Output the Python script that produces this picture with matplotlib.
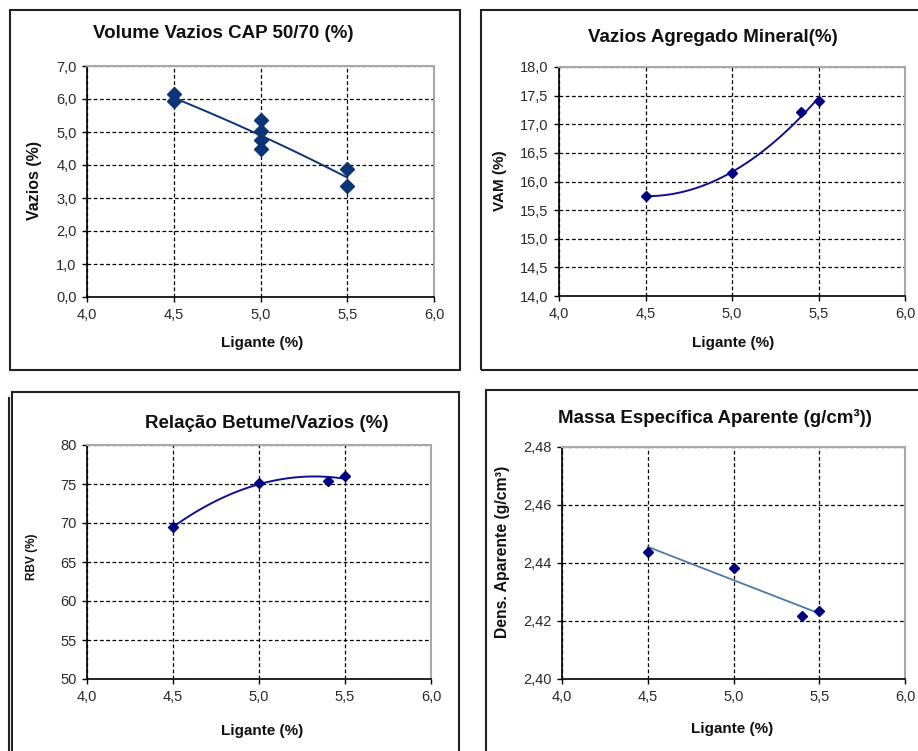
import numpy as np
import matplotlib
matplotlib.use('Agg')
import matplotlib.pyplot as plt
from matplotlib.patches import Rectangle
from matplotlib.lines import Line2D
from matplotlib.ticker import FuncFormatter

plt.rcParams['font.family'] = ['Liberation Sans', 'DejaVu Sans']

# DATA
lig_vv = [4.5, 4.5, 5.0, 5.0, 5.0, 5.0, 5.5, 5.5]
vazios = [6.14, 5.93, 5.35, 5.02, 4.75, 4.47, 3.89, 3.35]

lig = [4.5, 5.0, 5.4, 5.5]
vam = [15.75, 16.14, 17.21, 17.41]
rbv = [69.45, 75.17, 75.35, 76.07]
dens = [2.4438, 2.4383, 2.4217, 2.4234]

x_ticks = [4.0, 4.5, 5.0, 5.5, 6.0]
vv_ticks = [0, 1, 2, 3, 4, 5, 6, 7]
vam_ticks = [14.0, 14.5, 15.0, 15.5, 16.0, 16.5, 17.0, 17.5, 18.0]
rbv_ticks = [50, 55, 60, 65, 70, 75, 80]
dens_ticks = [2.40, 2.42, 2.44, 2.46, 2.48]

W, H = 918, 751
fig = plt.figure(figsize=(W / 100, H / 100), dpi=100)


def fx(px):
    return px / W


def fy(py):
    return 1 - py / H


def comma(nd):
    return FuncFormatter(lambda v, p: f'{v:.{nd}f}'.replace('.', ','))


def box(x0, y0, x1, y1):
    fig.add_artist(Rectangle((fx(x0), fy(y1)), fx(x1 - x0), (y1 - y0) / H,
                             transform=fig.transFigure, fill=False,
                             edgecolor='#222222', lw=1.5, clip_on=False))


def panel(l, t, r, b, x, y, deg, yticks, ynd, ms, mcol, lcol, lw):
    ax = fig.add_axes([fx(l), fy(b), fx(r - l), (b - t) / H])
    ax.set_xlim(4.0, 6.0)
    ax.set_ylim(yticks[0], yticks[-1])
    ax.set_xticks(x_ticks)
    ax.set_yticks(yticks)
    ax.xaxis.set_major_formatter(comma(1))
    ax.yaxis.set_major_formatter(comma(ynd))
    ax.grid(True, color='black', lw=0.9, linestyle=(0, (3, 2)))
    for s in ['top', 'right']:
        ax.spines[s].set_color('#a8a8a8')
        ax.spines[s].set_linewidth(1.5)
    for s in ['left', 'bottom']:
        ax.spines[s].set_color('black')
        ax.spines[s].set_linewidth(1.2)
    ax.tick_params(direction='out', length=3.5, width=1, labelsize=10.5,
                   labelcolor='#2a2a2a')
    ax.tick_params(axis='y', pad=4)
    ax.tick_params(axis='x', pad=4.5)
    # trend line
    c = np.polyfit(x, y, deg)
    xs = np.linspace(min(x), max(x), 100)
    ax.plot(xs, np.polyval(c, xs), color=lcol, lw=lw, zorder=3)
    ax.plot(x, y, 'D', ms=ms, color=mcol, mec=mcol, zorder=4, clip_on=False)
    return ax


# FRAMES
box(10, 10, 460, 370)
box(481, 10, 940, 370)
box(12, 392, 459, 770)
box(486, 390, 940, 770)
fig.add_artist(Line2D([fx(8.5), fx(8.5)], [fy(398), fy(760)],
                      transform=fig.transFigure, color='#222222', lw=1.5))

# PANELS
panel(87, 66, 434, 297, lig_vv, vazios, 2, vv_ticks, 1, 6.8, '#0d3474', '#0d3474', 1.4)
panel(559, 67, 905, 296, lig, vam, 2, vam_ticks, 1, 5.4, '#000080', '#10108f', 1.4)
panel(87, 445, 431, 679, lig, rbv, 2, rbv_ticks, 0, 5.4, '#000080', '#10108f', 1.4)
panel(562, 447, 905, 679, lig, dens, 1, dens_ticks, 2, 5.4, '#000080', '#5078a8', 1.3)

# TITLES AND LABELS
tkw = dict(ha='center', va='center', fontweight='bold', color='#111111')
fig.text(fx(223), fy(33), 'Volume Vazios CAP 50/70 (%)', fontsize=13.5, **tkw)
fig.text(fx(713), fy(38), 'Vazios Agregado Mineral(%)', fontsize=13.5, **tkw)
fig.text(fx(267), fy(423), 'Relação Betume/Vazios (%)', fontsize=13.5, **tkw)
fig.text(fx(715), fy(418), 'Massa Específica Aparente (g/cm³))', fontsize=13.5, **tkw)

for xl, yl in [(262, 343), (733, 343), (262, 731), (732, 729)]:
    fig.text(fx(xl), fy(yl), 'Ligante (%)', fontsize=11, **tkw)

fig.text(fx(35), fy(181), 'Vazios (%)', fontsize=11.5, rotation=90, **tkw)
fig.text(fx(500), fy(181), 'VAM (%)', fontsize=11, rotation=90, **tkw)
fig.text(fx(32), fy(557), 'RBV (%)', fontsize=8.5, rotation=90, **tkw)
fig.text(fx(503), fy(552), 'Dens. Aparente (g/cm³)', fontsize=11.3, rotation=90, **tkw)

fig.savefig('out.png', dpi=100)
